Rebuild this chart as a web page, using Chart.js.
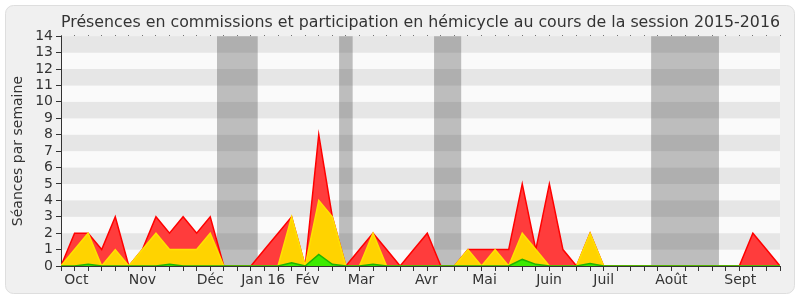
<!DOCTYPE html>
<html>
<head>
<meta charset="utf-8">
<script src="https://cdn.jsdelivr.net/npm/chart.js@4/dist/chart.umd.min.js"></script>
<style>
	html, body { margin: 0; padding: 0; background: #fff; }
	canvas { display: block; }
</style>
</head>
<body>
<canvas id="presences" width="800" height="300"></canvas>
<script>
// |------------|
// |   Données  |
// |------------|

// une valeur par semaine, de fin septembre 2015 à fin septembre 2016
const semaines = Array.from({length: 54}, (v, i) => i)

const total = [0, 2, 2, 1, 3, 0, 1, 3, 2, 3, 2, 3, 0, 0, 0, 1, 2, 3, 0, 8, 3, 0, 1, 2, 1, 0, 1, 2, 0, 0,
	1, 1, 1, 1, 5, 1, 5, 1, 0, 2, 0, 0, 0, 0, 0, 0, 0, 0, 0, 0, 0, 2, 1, 0]
const commissions = [0, 1, 2, 0, 1, 0, 1, 2, 1, 1, 1, 2, 0, 0, 0, 0, 0, 3, 0, 4, 3, 0, 0, 2, 0, 0, 0, 0, 0, 0,
	1, 0, 1, 0, 2, 1, 0, 0, 0, 2, 0, 0, 0, 0, 0, 0, 0, 0, 0, 0, 0, 0, 0, 0]
const hemicycle = [0, 0, 0.1, 0, 0, 0, 0, 0, 0.1, 0, 0, 0, 0, 0, 0, 0, 0, 0.2, 0, 0.7, 0.1, 0, 0, 0.1, 0, 0, 0, 0, 0, 0,
	0, 0, 0, 0, 0.4, 0.1, 0, 0, 0, 0.15, 0, 0, 0, 0, 0, 0, 0, 0, 0, 0, 0, 0, 0, 0]

// mois (position en semaines)
const mois_labels = ['Oct', 'Nov', 'Déc', 'Jan 16', 'Fév', 'Mar', 'Avr', 'Mai', 'Juin', 'Juil', 'Août', 'Sept']
const mois_positions = [1.13, 6.0, 11.0, 14.9, 18.17, 22.12, 26.94, 31.22, 35.98, 40.0, 45.0, 50.07]

// vacances parlementaires (début, fin en semaines)
const vacances = [[11.5, 14.5], [20.5, 21.5], [27.5, 29.5], [43.5, 48.5]]

const couleur_texte = '#333333'


// |---------------|
// |   Plugins     |
// |---------------|

const fond = {
	id: 'fond',
	beforeDraw(chart) {
		const ctx = chart.ctx
		ctx.save()
		ctx.fillStyle = '#ffffff'
		ctx.fillRect(0, 0, chart.width, chart.height)
		ctx.beginPath()
		ctx.roundRect(5.5, 5.5, 789, 288, 8)
		ctx.fillStyle = '#f0f0f0'
		ctx.fill()
		ctx.strokeStyle = '#dedede'
		ctx.lineWidth = 1
		ctx.stroke()

		// bandes horizontales
		const area = chart.chartArea
		const y = chart.scales.y
		for (let v = 0; v < 14; v++) {
			ctx.fillStyle = (v % 2 == 1) ? '#e6e6e6' : '#fafafa'
			const top = y.getPixelForValue(v + 1)
			const bottom = y.getPixelForValue(v)
			ctx.fillRect(area.left, top, area.right - area.left, bottom - top)
		}
		ctx.restore()
	},
	beforeDatasetsDraw(chart) {
		const ctx = chart.ctx
		const area = chart.chartArea
		const x = chart.scales.x
		ctx.save()
		ctx.fillStyle = 'rgba(50, 50, 50, 0.3)'
		for (v in vacances) {
			const x1 = x.getPixelForValue(vacances[v][0])
			const x2 = x.getPixelForValue(vacances[v][1])
			ctx.fillRect(x1, area.top, x2 - x1, area.bottom - area.top)
		}
		ctx.restore()
	}
}


// |---------------|
// |   Graphique   |
// |---------------|

Chart.defaults.font.family = '"DejaVu Sans", Verdana, sans-serif'
Chart.defaults.font.size = 14
Chart.defaults.color = couleur_texte

function serie(data, fond_couleur, bord_couleur) {
	return {
		data: data.map((v, i) => ({x: semaines[i], y: v})),
		backgroundColor: fond_couleur,
		borderColor: bord_couleur,
		borderWidth: 1.5,
		fill: 'origin',
		tension: 0,
		pointRadius: 0
	}
}

new Chart(document.getElementById('presences'), {
	type: 'line',
	data: {
		datasets: [
			serie(hemicycle, 'rgb(60, 235, 0)', 'rgb(30, 180, 0)'),
			serie(commissions, 'rgb(255, 211, 0)', 'rgb(255, 225, 0)'),
			serie(total, 'rgb(255, 60, 60)', 'rgb(255, 0, 0)')
		]
	},
	plugins: [fond],
	options: {
		responsive: false,
		animation: false,
		layout: {
			padding: {left: 5, right: 20, top: 0, bottom: 0}
		},
		plugins: {
			legend: { display: false },
			tooltip: { enabled: false },
			title: {
				display: true,
				text: 'Présences en commissions et participation en hémicycle au cours de la session 2015-2016',
				fullSize: false,
				color: couleur_texte,
				font: { size: 16, weight: 'normal' },
				padding: { top: 13, bottom: 3 }
			}
		},
		scales: {
			x: {
				type: 'linear',
				position: 'bottom',
				min: 0,
				max: 53,
				weight: 0,
				afterBuildTicks: (scale) => {
					scale.ticks = semaines.map(v => ({value: v}))
				},
				afterFit: (scale) => { scale.height = 5 },
				ticks: { display: false },
				grid: {
					drawOnChartArea: false,
					tickLength: 5,
					tickColor: couleur_texte
				},
				border: { color: couleur_texte }
			},
			mois: {
				type: 'linear',
				position: 'bottom',
				min: 0,
				max: 53,
				weight: 1,
				afterBuildTicks: (scale) => {
					scale.ticks = mois_positions.map(v => ({value: v}))
				},
				afterFit: (scale) => { scale.height = 29 },
				ticks: {
					autoSkip: false,
					maxRotation: 0,
					padding: 1,
					callback: (value, index) => mois_labels[index]
				},
				grid: { display: false, drawTicks: false },
				border: { display: false }
			},
			haut: {
				type: 'linear',
				position: 'top',
				min: 0,
				max: 53,
				afterBuildTicks: (scale) => {
					scale.ticks = semaines.map(v => ({value: v}))
				},
				afterFit: (scale) => { scale.height = 1 },
				ticks: { display: false },
				grid: {
					drawOnChartArea: false,
					tickLength: 1,
					tickColor: '#555555'
				},
				border: { display: false }
			},
			y: {
				min: 0,
				max: 14,
				afterFit: (scale) => { scale.width = 56 },
				ticks: {
					stepSize: 1,
					autoSkip: false,
					padding: 3
				},
				grid: {
					drawOnChartArea: false,
					tickLength: 5,
					tickColor: couleur_texte
				},
				border: { color: couleur_texte },
				title: {
					display: true,
					text: 'Séances par semaine',
					color: couleur_texte,
					padding: { top: 5, bottom: 0 }
				}
			}
		}
	}
})
</script>
</body>
</html>
